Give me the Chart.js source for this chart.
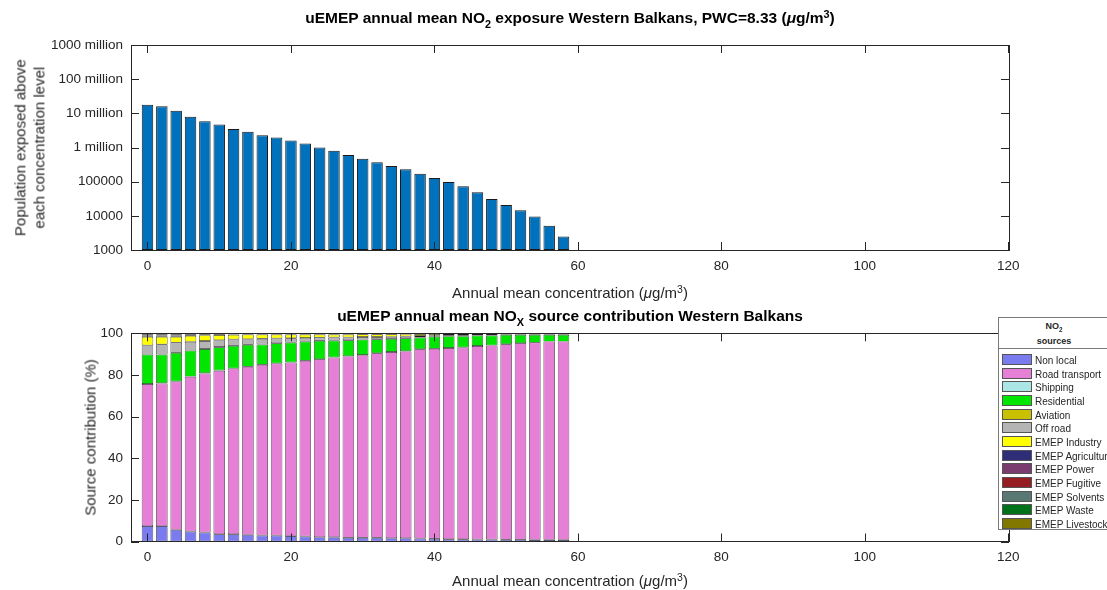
<!DOCTYPE html>
<html>
<head>
<meta charset="utf-8">
<title>uEMEP NO2 exposure Western Balkans</title>
<script src="https://cdn.jsdelivr.net/npm/chart.js@4.4.1/dist/chart.umd.min.js"></script>
<style>
  body { margin: 0; background: #fff; font-family: 'Liberation Sans', Arial, sans-serif; }
  #wrap { position: relative; width: 1107px; height: 590px; overflow: hidden; }
  canvas { position: absolute; left: 0; }
  .lbl { position: absolute; white-space: nowrap; text-align: center; line-height: 1; }
  .ttl { font-weight: bold; font-size: 15.5px; color: #000; }
  .axl { font-size: 15px; color: #262626; }
  .sb { font-size: 70%; position: relative; top: 0.45em; }
  .sp { font-size: 70%; position: relative; top: -0.5em; }
  .rot { transform: rotate(-90deg); }
  #legend { position: absolute; left: 998px; top: 317px; width: 112px; height: 213px;
            border: 1px solid #7a7a7a; background: #fff; box-sizing: border-box; }
  #legend .head { height: 31px; border-bottom: 1px solid #7a7a7a; text-align: center;
                  font-weight: bold; font-size: 9px; color: #262626; line-height: 14px; padding-top: 1px; box-sizing: border-box; }
  #legend .item { position: absolute; left: 3px; height: 13px; font-size: 10px; line-height: 13px; color: #262626; white-space: nowrap; }
  #legend .sw { display: inline-block; width: 28px; height: 9px; border: 1px solid #555; vertical-align: -1px; margin-right: 3px; }
</style>
</head>
<body>
<div id="wrap">
  <canvas id="exposureChart" width="1107" height="300" style="top:0"></canvas>
  <canvas id="sourceChart" width="1107" height="290" style="top:300px"></canvas>

  <div class="lbl ttl" style="left:131px; width:878px; top:10px">uEMEP annual mean NO<span class="sb">2</span> exposure Western Balkans, PWC=8.33 (<i>μ</i>g/m<span class="sp">3</span>)</div>
  <div class="lbl axl" style="left:131px; width:878px; top:285px">Annual mean concentration (<i>μ</i>g/m<span class="sp">3</span>)</div>
  <div class="lbl axl rot" style="left:-120px; top:129px; width:300px; line-height:18.6px">Population exposed above<br>each concentration level</div>

  <div class="lbl ttl" style="left:131px; width:878px; top:308px">uEMEP annual mean NO<span class="sb">X</span> source contribution Western Balkans</div>
  <div class="lbl axl" style="left:131px; width:878px; top:573px">Annual mean concentration (<i>μ</i>g/m<span class="sp">3</span>)</div>
  <div class="lbl axl rot" style="left:-60px; top:430px; width:300px">Source contribution (%)</div>

  <div id="legend"><div class="head">NO<span class="sb">2</span><br>sources</div></div>
</div>

<script>
// Concentration bins (ug/m3), one bar each
const concentrations = [0, 2, 4, 6, 8, 10, 12, 14, 16, 18, 20, 22, 24, 26, 28,
                        30, 32, 34, 36, 38, 40, 42, 44, 46, 48, 50, 52, 54, 56, 58];

// Population exposed above each concentration level
const populationExposed = [17800000, 16200000, 11900000, 8000000, 5850000, 4700000, 3500000, 2900000,
                           2280000, 1950000, 1590000, 1300000, 1000000, 802000, 602000, 471000,
                           369000, 289000, 232000, 170000, 128000, 98000, 73000, 49000,
                           31000, 20700, 14600, 9600, 5100, 2500];

const xTicks = [0, 20, 40, 60, 80, 100, 120];
const popTicks = [1e3, 1e4, 1e5, 1e6, 1e7, 1e8, 1e9];
const popTickLabels = ['1000', '10000', '100000', '1 million', '10 million', '100 million', '1000 million'];
const pctTicks = [0, 20, 40, 60, 80, 100];

// Source contributions (%) per bin
const nonLocal      = [7.4, 7.4, 5.6, 4.8, 4.3, 3.5, 3.5, 3.2, 2.9, 2.9, 2.6, 2.4, 2.1, 2.1, 1.8,
                       1.8, 1.8, 1.6, 1.6, 1.4, 1.3, 1.1, 1.1, 1.0, 1.0, 0.9, 0.9, 0.8, 0.8, 0.8];
const roadTransport = [68.2, 68.5, 71.2, 74.3, 76.4, 78.5, 79.6, 80.7, 82.0, 82.6, 83.4, 84.4, 85.4, 86.2, 87.1,
                       87.7, 88.6, 89.4, 89.7, 90.9, 91.3, 91.8, 92.1, 92.9, 93.2, 93.8, 94.3, 94.7, 95.2, 95.2];
const shipping      = [0.1, 0.1, 0.1, 0.1, 0.1, 0.1, 0.05, 0.05, 0.05, 0.05, 0.05, 0.05, 0.05, 0.05, 0.05,
                       0.05, 0.05, 0.05, 0.05, 0.04, 0.03, 0.03, 0.03, 0.02, 0.02, 0.02, 0.02, 0.02, 0.02, 0.02];
const residential   = [14.1, 13.8, 13.7, 12.5, 11.6, 11.2, 10.8, 10.5, 9.6, 9.7, 9.5, 9.2, 8.8, 8.2, 7.7,
                       7.4, 6.7, 6.3, 6.3, 5.6, 5.8, 5.7, 5.4, 5.0, 4.7, 4.5, 4.0, 3.7, 3.2, 3.2];
const aviation      = [0.1, 0.1, 0.1, 0.1, 0.1, 0.1, 0.05, 0.05, 0.05, 0.05, 0.05, 0.05, 0.05, 0.05, 0.05,
                       0.05, 0.05, 0.05, 0.05, 0.04, 0.03, 0.03, 0.03, 0.02, 0.02, 0.02, 0.02, 0.02, 0.02, 0.02];
const offRoad       = [4.3, 4.8, 4.8, 4.1, 3.8, 3.3, 3.0, 2.7, 2.8, 2.2, 2.0, 1.7, 1.5, 1.4, 1.3,
                       1.2, 1.0, 0.9, 0.8, 0.7, 0.5, 0.4, 0.4, 0.3, 0.3, 0.2, 0.2, 0.2, 0.2, 0.2];
const emepIndustry  = [4.1, 3.6, 2.8, 2.9, 2.8, 2.5, 2.3, 2.2, 2.0, 1.9, 1.8, 1.6, 1.5, 1.4, 1.4,
                       1.3, 1.3, 1.2, 1.1, 1.0, 0.8, 0.7, 0.7, 0.6, 0.6, 0.4, 0.4, 0.4, 0.4, 0.4];
const emepAgriculture = [0.7, 0.7, 0.7, 0.5, 0.4, 0.35, 0.3, 0.25, 0.25, 0.25, 0.25, 0.25, 0.25, 0.25, 0.25,
                         0.22, 0.22, 0.22, 0.18, 0.14, 0.1, 0.1, 0.1, 0.07, 0.07, 0.07, 0.07, 0.07, 0.07, 0.07];
const emepPower     = [0.5, 0.5, 0.5, 0.4, 0.3, 0.28, 0.24, 0.2, 0.2, 0.2, 0.2, 0.2, 0.2, 0.2, 0.2,
                       0.17, 0.17, 0.17, 0.14, 0.11, 0.08, 0.08, 0.08, 0.05, 0.05, 0.05, 0.05, 0.05, 0.05, 0.05];
const emepFugitive  = [0.2, 0.2, 0.2, 0.15, 0.1, 0.09, 0.08, 0.08, 0.08, 0.08, 0.08, 0.08, 0.08, 0.08, 0.08,
                       0.06, 0.06, 0.06, 0.05, 0.04, 0.03, 0.03, 0.03, 0.02, 0.02, 0.02, 0.02, 0.02, 0.02, 0.02];
const emepSolvents  = [0.2, 0.2, 0.2, 0.1, 0.08, 0.06, 0.06, 0.05, 0.05, 0.05, 0.05, 0.05, 0.05, 0.05, 0.05,
                       0.04, 0.04, 0.04, 0.03, 0.03, 0.02, 0.02, 0.02, 0.02, 0.02, 0.02, 0.02, 0.02, 0.02, 0.02];
const emepWaste     = [0.05, 0.05, 0.05, 0.03, 0.02, 0.02, 0.01, 0.01, 0.01, 0.01, 0.01, 0.01, 0.01, 0.01, 0.01,
                       0.01, 0.01, 0.01, 0.01, 0.01, 0.01, 0.01, 0.01, 0.01, 0.01, 0.01, 0.01, 0.01, 0.01, 0.01];
const emepLivestock = [0.05, 0.05, 0.05, 0.02, 0.02, 0.02, 0.01, 0.01, 0.01, 0.01, 0.01, 0.01, 0.01, 0.01, 0.01,
                       0.01, 0.01, 0.01, 0.01, 0.01, 0.01, 0.01, 0.01, 0.01, 0.01, 0.01, 0.01, 0.01, 0.01, 0.01];

const sourceNames = ['Non local', 'Road transport', 'Shipping', 'Residential', 'Aviation', 'Off road',
                     'EMEP Industry', 'EMEP Agriculture', 'EMEP Power', 'EMEP Fugitive', 'EMEP Solvents',
                     'EMEP Waste', 'EMEP Livestock'];
const sourceColors = ['#7b7bf0', '#e680d6', '#aae6e6', '#00e600', '#c8c000', '#b4b4b4',
                      '#ffff00', '#2d2d78', '#7a3c6e', '#961e23', '#5a7873', '#00731a', '#827800'];
const sourceValues = [nonLocal, roadTransport, shipping, residential, aviation, offRoad, emepIndustry,
                      emepAgriculture, emepPower, emepFugitive, emepSolvents, emepWaste, emepLivestock];

Chart.defaults.font.family = "'Liberation Sans', Arial, sans-serif";
Chart.defaults.font.size = 13.5;
Chart.defaults.color = '#262626';

// MATLAB style box with inward ticks
const boxAxes = {
    id: 'boxAxes',
    afterDatasetsDraw(chart) {
        const { ctx, chartArea: a, scales } = chart;
        const len = 8;
        ctx.save();
        ctx.strokeStyle = '#262626';
        ctx.lineWidth = 1;
        ctx.strokeRect(Math.round(a.left) + 0.5, Math.round(a.top) + 0.5,
                       Math.round(a.right - a.left), Math.round(a.bottom - a.top));
        ctx.beginPath();
        scales.x.ticks.forEach(t => {
            const px = Math.round(scales.x.getPixelForValue(t.value)) + 0.5;
            ctx.moveTo(px, a.bottom); ctx.lineTo(px, a.bottom - len);
            ctx.moveTo(px, a.top); ctx.lineTo(px, a.top + len);
        });
        scales.y.ticks.forEach(t => {
            const py = Math.round(scales.y.getPixelForValue(t.value)) + 0.5;
            ctx.moveTo(a.left, py); ctx.lineTo(a.left + len, py);
            ctx.moveTo(a.right, py); ctx.lineTo(a.right - len, py);
        });
        ctx.stroke();
        ctx.restore();
    }
};

function xAxis(height) {
    return {
        type: 'linear',
        min: -2.3,
        max: 120.1,
        offset: false,
        stacked: true,
        grid: { display: false },
        border: { display: false },
        ticks: { padding: 0, maxRotation: 0 },
        afterBuildTicks: s => { s.ticks = xTicks.map(v => ({ value: v })); },
        afterFit: s => { s.height = height; }
    };
}

// Population exposure chart
new Chart(document.getElementById('exposureChart'), {
    type: 'bar',
    data: {
        datasets: [{
            data: concentrations.map((c, i) => ({ x: c, y: populationExposed[i] })),
            backgroundColor: '#0072bd',
            borderColor: '#1a1a1a',
            borderWidth: 1,
            borderSkipped: false,
            barPercentage: 0.8,
            categoryPercentage: 1
        }]
    },
    options: {
        responsive: false,
        animation: false,
        layout: { padding: { top: 45, right: 98, left: 0, bottom: 0 } },
        plugins: { legend: { display: false }, tooltip: { enabled: false } },
        scales: {
            x: xAxis(50),
            y: {
                type: 'logarithmic',
                min: 1e3,
                max: 1e9,
                grid: { display: false },
                border: { display: false },
                ticks: { padding: 0, callback: (v, i) => popTickLabels[i] },
                afterBuildTicks: s => { s.ticks = popTicks.map(v => ({ value: v })); },
                afterFit: s => { s.width = 131; }
            }
        }
    },
    plugins: [boxAxes]
});

// Source contribution chart
new Chart(document.getElementById('sourceChart'), {
    type: 'bar',
    data: {
        datasets: sourceNames.map((name, k) => ({
            label: name,
            data: concentrations.map((c, i) => ({ x: c, y: sourceValues[k][i] })),
            backgroundColor: sourceColors[k],
            borderColor: '#1a1a1a',
            borderWidth: 0.7,
            borderSkipped: false,
            barPercentage: 0.8,
            categoryPercentage: 1
        }))
    },
    options: {
        responsive: false,
        animation: false,
        layout: { padding: { top: 33.3, right: 98, left: 0, bottom: 0 } },
        plugins: { legend: { display: false }, tooltip: { enabled: false } },
        scales: {
            x: xAxis(48.5),
            y: {
                type: 'linear',
                min: 0,
                max: 100,
                stacked: true,
                grid: { display: false },
                border: { display: false },
                ticks: { padding: 0 },
                afterBuildTicks: s => { s.ticks = pctTicks.map(v => ({ value: v })); },
                afterFit: s => { s.width = 131; }
            }
        }
    },
    plugins: [boxAxes]
});

// Legend box
const legend = document.getElementById('legend');
sourceNames.forEach((name, k) => {
    const item = document.createElement('div');
    item.className = 'item';
    item.style.top = (36 + k * 13.67) + 'px';
    item.innerHTML = '<span class="sw" style="background:' + sourceColors[k] + '"></span>' + name;
    legend.appendChild(item);
});
</script>
</body>
</html>
